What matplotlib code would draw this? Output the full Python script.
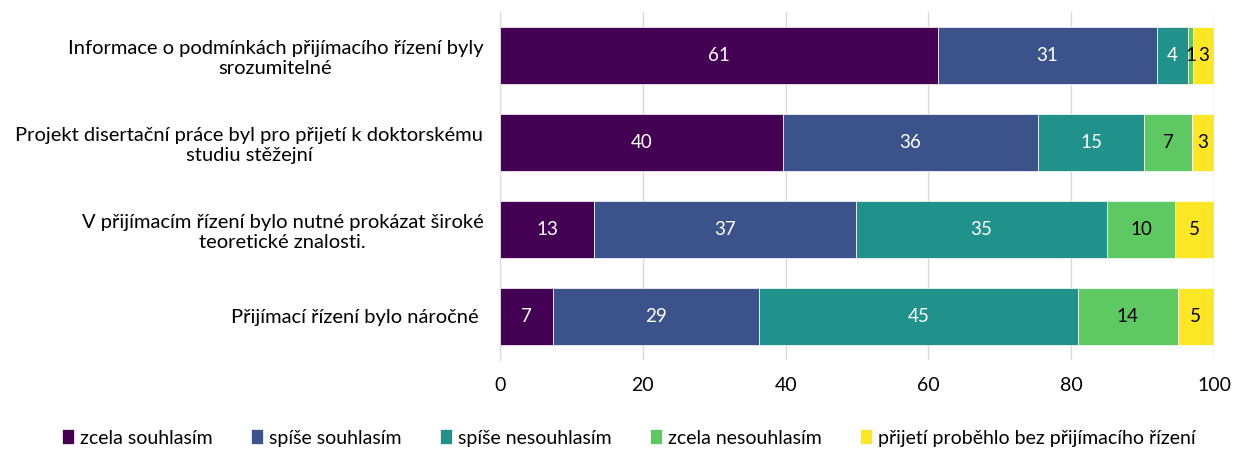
import numpy as np
import matplotlib.pyplot as plt

plt.rcParams['font.family'] = ['Lato', 'DejaVu Sans']

categories = ['Informace o podmínkách přijímacího řízení byly\nsrozumitelné',
              'Projekt disertační práce byl pro přijetí k doktorskému\nstudiu stěžejní',
              'V přijímacím řízení bylo nutné prokázat široké\nteoretické znalosti.',
              'Přijímací řízení bylo náročné ']
series = ['zcela souhlasím', 'spíše souhlasím', 'spíše nesouhlasím',
          'zcela nesouhlasím', 'přijetí proběhlo bez přijímacího řízení']
zcela_souhlasim = [61.3, 39.6, 13.2, 7.4]
spise_souhlasim = [30.7, 35.8, 36.6, 28.9]
spise_nesouhlasim = [4.4, 14.8, 35.2, 44.6]
zcela_nesouhlasim = [0.7, 6.7, 9.6, 14.0]
bez_rizeni = [2.9, 3.1, 5.4, 5.1]

data = [zcela_souhlasim, spise_souhlasim, spise_nesouhlasim, zcela_nesouhlasim, bez_rizeni]
colors = ['#440154', '#3b528b', '#21918c', '#5ec962', '#fde725']
text_colors = ['white', 'white', 'white', 'black', 'black']

fig = plt.figure(figsize=(12.33, 4.5), dpi=100)
ax = fig.add_axes([500/1233, 1 - 360/450, 714/1233, 348/450])

y = np.arange(len(categories))
left = np.zeros(len(categories))
for vals, col, tc, name in zip(data, colors, text_colors, series):
    ax.barh(y, vals, left=left, height=0.655, color=col, label=name,
            edgecolor='white', linewidth=0.5, zorder=3)
    for v, l, yy in zip(vals, left, y):
        ax.text(l + v / 2, yy, f'{v:.0f}', ha='center', va='center',
                color=tc, fontsize=13.5, zorder=4)
    left += np.array(vals)

ax.set_xlim(0, 100)
ax.set_ylim(3.5, -0.5)
ax.set_xticks(range(0, 101, 20))
ax.set_yticks(y)
ax.set_yticklabels(categories, multialignment='center', fontsize=14.5)
ax.tick_params(axis='x', labelsize=14, length=0, pad=12)
ax.tick_params(axis='y', length=0, pad=12)
ax.grid(axis='x', color='#d9d9d9', linewidth=1, zorder=0)
for s in ['top', 'right', 'bottom']:
    ax.spines[s].set_visible(False)
ax.spines['left'].set_color('#d9d9d9')

fig.legend(loc='center', bbox_to_anchor=(0.51, 1 - 438/450), ncol=5, frameon=False,
           fontsize=14, handlelength=0.6, handleheight=0.8, handletextpad=0.3,
           columnspacing=2.0)

fig.savefig('out.png', dpi=100)
